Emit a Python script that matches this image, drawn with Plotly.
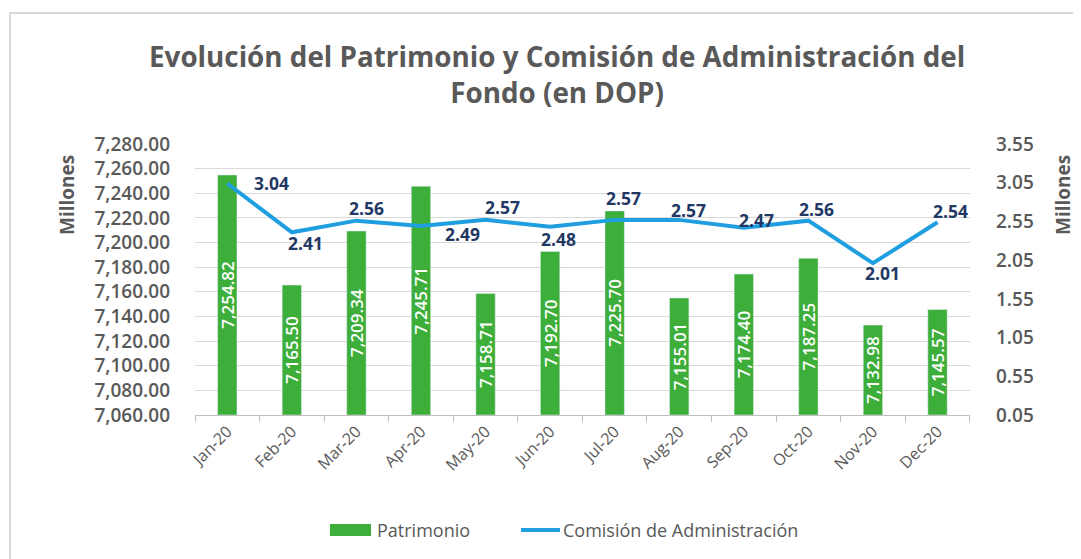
import plotly.graph_objects as go

months = ["Jan-20", "Feb-20", "Mar-20", "Apr-20", "May-20", "Jun-20",
          "Jul-20", "Aug-20", "Sep-20", "Oct-20", "Nov-20", "Dec-20"]
patrimonio = [7254.82, 7165.50, 7209.34, 7245.71, 7158.71, 7192.70,
              7225.70, 7155.01, 7174.40, 7187.25, 7132.98, 7145.57]
comision = [3.04, 2.41, 2.56, 2.49, 2.57, 2.48, 2.57, 2.57, 2.47, 2.56, 2.01, 2.54]
series_names = ["Patrimonio", "Comisión de Administración"]

# label offsets (pixels) for the commission labels
label_dx = [44, 14, 10, 42, 17, 8, 9, 9, 13, 8, 10, 13]
label_dy = [0, -11, 13, -8, 13, -12, 22, 10, 8, 12, -10, 11]

LEFT_MIN, LEFT_MAX, LEFT_STEP = 7060, 7280, 20
RIGHT_MIN, RIGHT_MAX, RIGHT_STEP = 0.05, 3.55, 0.5

GRAY = "#595959"
GREEN = "#3dae3a"
BLUE = "#1f9ee0"
NAVY = "#1f3864"
FONT = "'Open Sans', Lato, sans-serif"

OFF = 8                      # page body margin
W, H = 1081, 559
L, R, T, B = 195, 970, 144, 415   # plot area in screen pixels


def px(x):
    return (x - L) / (R - L)


def py(y):
    return (B - y) / (B - T)


fig = go.Figure()
fig.add_trace(go.Bar(
    x=months,
    y=[v - LEFT_MIN for v in patrimonio],
    base=LEFT_MIN,
    name=series_names[0],
    marker=dict(color=GREEN),
    width=0.3,
    text=[f"{v:,.2f}" for v in patrimonio],
    textposition="inside",
    insidetextanchor="middle",
    textangle=-90,
    constraintext="none",
    textfont=dict(color="white", size=17, family=FONT, weight=600),
    yaxis="y",
))
fig.add_trace(go.Scatter(
    x=months,
    y=comision,
    name=series_names[1],
    mode="lines",
    line=dict(color=BLUE, width=4),
    yaxis="y2",
))

annotations = [
    dict(x=m, y=v, xref="x", yref="y2", text=f"{v:.2f}", showarrow=False,
         xshift=dx, yshift=dy, xanchor="center", yanchor="middle",
         font=dict(color=NAVY, size=17.5, family=FONT, weight="bold"))
    for m, v, dx, dy in zip(months, comision, label_dx, label_dy)
]
annotations += [
    dict(text="Evolución del Patrimonio y Comisión de Administración del<br>Fondo (en DOP)",
         x=px(557), y=py(74), xref="paper", yref="paper", showarrow=False,
         xanchor="center", yanchor="middle",
         font=dict(size=27.8, color=GRAY, family=FONT, weight="bold")),
    dict(text="Millones", x=px(67), y=py(195), xref="paper", yref="paper",
         showarrow=False, textangle=-90, xanchor="center", yanchor="middle",
         font=dict(size=19, color=GRAY, family=FONT, weight="bold")),
    dict(text="Millones", x=px(1063), y=py(195), xref="paper", yref="paper",
         showarrow=False, textangle=-90, xanchor="center", yanchor="middle",
         font=dict(size=19, color=GRAY, family=FONT, weight="bold")),
    # legend texts
    dict(text=series_names[0], x=px(375), y=py(530), xref="paper", yref="paper",
         showarrow=False, xanchor="left", yanchor="middle",
         font=dict(size=18, color=GRAY, family=FONT)),
    dict(text=series_names[1], x=px(561), y=py(530), xref="paper", yref="paper",
         showarrow=False, xanchor="left", yanchor="middle",
         font=dict(size=18, color=GRAY, family=FONT)),
]

shapes = [
    dict(type="rect", xref="paper", yref="paper",
         x0=px(10), x1=px(1100), y0=py(13), y1=py(600),
         line=dict(color="#d9d9d9", width=2), fillcolor="rgba(0,0,0,0)", layer="below"),
    # legend symbols
    dict(type="rect", xref="paper", yref="paper",
         x0=px(330), x1=px(371), y0=py(536), y1=py(524),
         line=dict(width=0), fillcolor=GREEN),
    dict(type="line", xref="paper", yref="paper",
         x0=px(521), x1=px(560), y0=py(530), y1=py(530),
         line=dict(color=BLUE, width=4)),
]

fig.update_layout(
    width=W - OFF, height=H - OFF,
    margin=dict(l=L - OFF, r=W - R, t=T - OFF, b=H - B, pad=0),
    paper_bgcolor="white",
    plot_bgcolor="white",
    font=dict(family=FONT, color=GRAY),
    showlegend=False,
    xaxis=dict(
        showline=True, linecolor="#bfbfbf", linewidth=1,
        ticks="outside", tickson="boundaries", ticklen=6, tickcolor="#bfbfbf",
        tickangle=-45, tickfont=dict(size=16, color=GRAY, family=FONT),
        showgrid=False,
    ),
    yaxis=dict(
        range=[LEFT_MIN, LEFT_MAX], dtick=LEFT_STEP, tick0=LEFT_MIN,
        tickformat=",.2f", showgrid=True, gridcolor="#d9d9d9", gridwidth=1,
        tickfont=dict(size=19, color=GRAY, family=FONT, weight=600),
        zeroline=False, ticks="", ticklabelstandoff=24,
    ),
    yaxis2=dict(
        range=[RIGHT_MIN, RIGHT_MAX], dtick=RIGHT_STEP, tick0=RIGHT_MIN,
        tickformat=".2f", overlaying="y", side="right", showgrid=False,
        tickfont=dict(size=19, color=GRAY, family=FONT, weight=600),
        zeroline=False, ticks="", ticklabelstandoff=25,
    ),
    bargap=0.7,
    annotations=annotations,
    shapes=shapes,
)

fig.write_html("out.html")
